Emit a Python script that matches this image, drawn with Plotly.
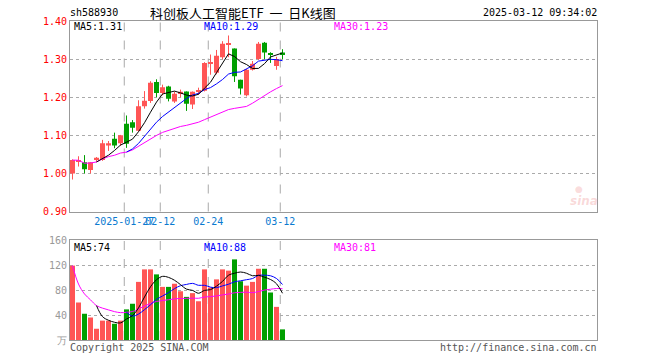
import math
import pandas as pd
import plotly.graph_objects as go

# ---------------- data ----------------
dates = ["2025-01-14", "2025-01-15", "2025-01-16", "2025-01-17", "2025-01-20", "2025-01-21",
         "2025-01-22", "2025-01-23", "2025-01-24", "2025-01-27", "2025-02-05", "2025-02-06",
         "2025-02-07", "2025-02-10", "2025-02-11", "2025-02-12", "2025-02-13", "2025-02-14",
         "2025-02-17", "2025-02-18", "2025-02-19", "2025-02-20", "2025-02-21", "2025-02-24",
         "2025-02-25", "2025-02-26", "2025-02-27", "2025-02-28", "2025-03-03", "2025-03-04",
         "2025-03-05", "2025-03-06", "2025-03-07", "2025-03-10", "2025-03-11", "2025-03-12"]
opens = [1.000, 1.030, 1.029, 1.009, 1.035, 1.035, 1.073, 1.091, 1.079, 1.130, 1.134, 1.112,
         1.176, 1.190, 1.240, 1.211, 1.228, 1.189, 1.210, 1.215, 1.181, 1.214, 1.217, 1.289,
         1.264, 1.305, 1.338, 1.328, 1.246, 1.205, 1.272, 1.300, 1.343, 1.315, 1.282, 1.317]
highs = [1.037, 1.045, 1.048, 1.030, 1.043, 1.088, 1.085, 1.107, 1.101, 1.152, 1.140, 1.192,
         1.216, 1.242, 1.247, 1.233, 1.230, 1.215, 1.220, 1.215, 1.215, 1.225, 1.292, 1.312,
         1.324, 1.347, 1.362, 1.328, 1.246, 1.274, 1.295, 1.345, 1.345, 1.318, 1.306, 1.326]
lows = [0.984, 1.018, 1.000, 1.000, 1.030, 1.033, 1.059, 1.066, 1.072, 1.067, 1.107, 1.110,
        1.170, 1.185, 1.200, 1.205, 1.189, 1.185, 1.200, 1.164, 1.169, 1.206, 1.215, 1.259,
        1.260, 1.300, 1.305, 1.240, 1.207, 1.202, 1.270, 1.298, 1.300, 1.290, 1.272, 1.300]
closes = [1.035, 1.034, 1.011, 1.029, 1.041, 1.079, 1.079, 1.073, 1.100, 1.078, 1.120, 1.176,
          1.191, 1.238, 1.211, 1.226, 1.196, 1.209, 1.214, 1.183, 1.214, 1.218, 1.290, 1.291,
          1.309, 1.340, 1.339, 1.255, 1.223, 1.272, 1.288, 1.340, 1.317, 1.311, 1.300, 1.313]
volumes = [119, 60, 42, 36, 18, 31, 31, 26, 31, 49, 58, 93,
           113, 113, 105, 85, 85, 90, 78, 69, 75, 62, 113, 84,
           97, 113, 111, 129, 94, 87, 93, 114, 114, 76, 53, 17]

tick_dates = ["2025-01-27", "2025-02-12", "2025-02-24", "2025-03-12"]
tick_labels = ["2025-01-27", "02-12", "02-24", "03-12"]

price_ticks = [0.90, 1.00, 1.10, 1.20, 1.30, 1.40]
vol_ticks = [0, 40, 80, 120, 160]
vol_tick_labels = ["万", "40", "80", "120", "160"]

# ---------------- styles ----------------
OFF = 8                      # page body margin of the browser
W, H = 660 - OFF, 360 - OFF  # figure size so that it fills the window
L_PX, R_PX = 70, 597         # plot box in window pixels
RED = "#ff5555"
GREEN = "#009f00"
GRID = "#aaaaaa"
BORDER = "#999999"
MONO = "DejaVu Sans Mono"


def fx(px):
    return (px - OFF) / W


def fy(py):
    return 1 - (py - OFF) / H


n = len(dates)
idx = list(range(n))
x0 = -2.5 / 6.0
x1 = x0 + (R_PX - L_PX) / 6.0

df = pd.DataFrame({"o": opens, "h": highs, "l": lows, "c": closes, "v": volumes})
ma5 = df["c"].rolling(5).mean()
ma10 = df["c"].rolling(10).mean()
ma30 = df["c"].rolling(30, min_periods=1).mean()
vma5 = df["v"].rolling(5).mean()
vma10 = df["v"].rolling(10).mean()
vma30 = df["v"].rolling(30, min_periods=1).mean()

up = [c >= o for o, c in zip(opens, closes)]
colors = [RED if u else GREEN for u in up]

fig = go.Figure()

# wicks
for col, flag in ((RED, True), (GREEN, False)):
    wx, wy = [], []
    for i in idx:
        if up[i] == flag:
            wx += [i, i, None]
            wy += [lows[i], highs[i], None]
    fig.add_trace(go.Scatter(x=wx, y=wy, mode="lines", line=dict(color=col, width=1),
                             hoverinfo="skip", xaxis="x", yaxis="y"))

# bodies
body_base = [min(o, c) for o, c in zip(opens, closes)]
body_h = [max(abs(c - o), 0.0027) for o, c in zip(opens, closes)]
fig.add_trace(go.Bar(x=idx, y=body_h, base=body_base, width=5 / 6.0,
                     marker=dict(color=colors, line=dict(width=0)), xaxis="x", yaxis="y"))

# price MAs
for s, col in ((ma30, "#ff00ff"), (ma10, "#0000ff"), (ma5, "#000000")):
    fig.add_trace(go.Scatter(x=idx, y=s, mode="lines", line=dict(color=col, width=1),
                             xaxis="x", yaxis="y", hoverinfo="skip"))

# volume
fig.add_trace(go.Bar(x=idx, y=volumes, width=5 / 6.0,
                     marker=dict(color=colors, line=dict(width=0)), xaxis="x2", yaxis="y2"))
for s, col in ((vma30, "#ff00ff"), (vma10, "#0000ff"), (vma5, "#000000")):
    fig.add_trace(go.Scatter(x=idx, y=s, mode="lines", line=dict(color=col, width=1, shape="spline"),
                             xaxis="x2", yaxis="y2", hoverinfo="skip"))

tick_pos = [dates.index(d) - 0.37 for d in tick_dates]

shapes = []
for p in tick_pos:
    for xr, yr in (("x", "y domain"), ("x2", "y2 domain")):
        shapes.append(dict(type="line", xref=xr, yref=yr, x0=p, x1=p, y0=0, y1=1,
                           line=dict(color=GRID, width=1, dash="dash"), layer="below"))


def trunc(v):
    return "%.2f" % (math.floor(v * 100 + 1e-9) / 100)


def ann(text, px, py, color="#000000", size=10, anchor="left", font=MONO, yanchor="middle"):
    return dict(text=text, x=fx(px), y=fy(py), xref="paper", yref="paper",
                showarrow=False, xanchor=anchor, yanchor=yanchor, borderpad=0,
                font=dict(family=font, size=size, color=color))


annotations = [
    ann("sh588930", 69, 13),
    ann("科创板人工智能ETF  一  日K线图", 149, 13, size=13, font="Noto Sans CJK SC"),
    ann("2025-03-12 09:34:02", 598, 13, anchor="right"),
    ann("MA5:" + trunc(ma5.iloc[-1]), 73, 27),
    ann("MA10:" + trunc(ma10.iloc[-1]), 203, 27, color="#0000ff"),
    ann("MA30:" + trunc(ma30.iloc[-1]), 333, 27, color="#ff00ff"),
    ann("MA5:%d" % int(vma5.iloc[-1]), 73, 247),
    ann("MA10:%d" % int(vma10.iloc[-1]), 203, 247, color="#0000ff"),
    ann("MA30:%d" % int(vma30.iloc[-1]), 333, 247, color="#ff00ff"),
    ann("Copyright 2025 SINA.COM", 69, 347, color="#555555"),
    ann("http://finance.sina.com.cn", 598, 347, color="#555555", anchor="right"),
    dict(text="<b><i>sina</i></b>", x=fx(584), y=fy(201), xref="paper", yref="paper",
         showarrow=False, xanchor="center", yanchor="middle",
         font=dict(family="DejaVu Sans", size=12, color="rgba(235,120,120,0.28)")),
    dict(text="●", x=fx(579), y=fy(189), xref="paper", yref="paper",
         showarrow=False, xanchor="center", yanchor="middle",
         font=dict(family="DejaVu Sans", size=9, color="rgba(235,120,120,0.25)")),
]

axis_common = dict(showline=True, linecolor=BORDER, linewidth=1, mirror=True,
                   zeroline=False, fixedrange=True, automargin=False)

fig.update_layout(
    width=W, height=H,
    margin=dict(l=0, r=0, t=0, b=0, autoexpand=False),
    paper_bgcolor="white", plot_bgcolor="white",
    showlegend=False,
    xaxis=dict(domain=[fx(L_PX), fx(R_PX)], range=[x0, x1], anchor="y",
               tickmode="array", tickvals=tick_pos, ticktext=tick_labels, tickangle=0,
               tickfont=dict(family=MONO, size=10, color="#0a7ad0"),
               showgrid=False, ticks="", **axis_common),
    yaxis=dict(domain=[fy(211.5), fy(21)], range=[0.90, 1.40], anchor="x",
               tickmode="array", tickvals=price_ticks, ticktext=["%.2f" % t for t in price_ticks],
               tickfont=dict(family=MONO, size=10, color="#ff0000"),
               showgrid=True, gridcolor=GRID, griddash="dot", gridwidth=1, ticks="",
               **axis_common),
    xaxis2=dict(domain=[fx(L_PX), fx(R_PX)], range=[x0, x1], anchor="y2",
                showticklabels=False, showgrid=False, ticks="", **axis_common),
    yaxis2=dict(domain=[fy(340), fy(240)], range=[0, 160], anchor="x2",
                tickmode="array", tickvals=vol_ticks, ticktext=vol_tick_labels,
                tickfont=dict(family=MONO, size=10, color="#999999"),
                showgrid=True, gridcolor=GRID, griddash="dot", gridwidth=1, ticks="",
                **axis_common),
    shapes=shapes,
    annotations=annotations,
)

fig.write_html("out.html")
